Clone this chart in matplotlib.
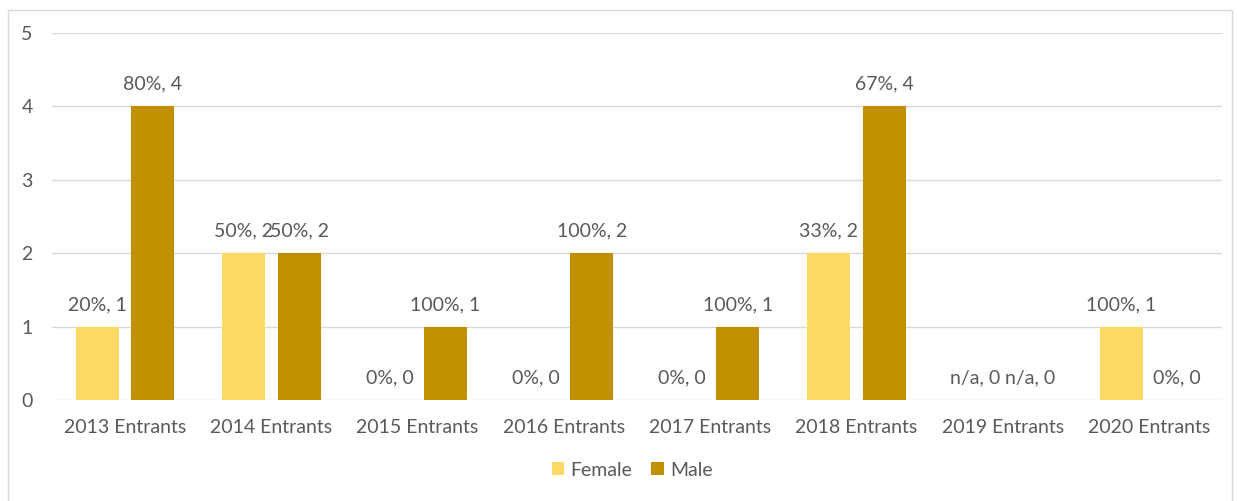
import matplotlib
matplotlib.use("Agg")
import matplotlib.pyplot as plt
from matplotlib.patches import Rectangle

categories = ["2013 Entrants", "2014 Entrants", "2015 Entrants", "2016 Entrants",
              "2017 Entrants", "2018 Entrants", "2019 Entrants", "2020 Entrants"]
female = [1, 2, 0, 0, 0, 2, 0, 1]
male = [4, 2, 1, 2, 1, 4, 0, 0]
female_pct = ["20%", "50%", "0%", "0%", "0%", "33%", "n/a", "100%"]
male_pct = ["80%", "50%", "100%", "100%", "100%", "67%", "n/a", "0%"]

FEMALE_COLOR = "#FFD966"
MALE_COLOR = "#BF9000"
TEXT_COLOR = "#595959"
GRID_COLOR = "#D9D9D9"
FS = 14

plt.rcParams["font.family"] = ["Lato", "DejaVu Sans"]

fig = plt.figure(figsize=(12.37, 5.01), dpi=100)
W, H = 1237, 501

# chart frame
fig.patches.append(Rectangle((8 / W, -0.05), (1232 - 8) / W, 1.05 - 10 / H,
                             transform=fig.transFigure, fill=False,
                             edgecolor="#D9D9D9", linewidth=1.0))

ax = fig.add_axes([52 / W, 1 - 400 / H, (1222 - 52) / W, (400 - 33) / H])

x = list(range(len(categories)))
offset = 0.19
width = 0.295
fx = [i - offset for i in x]
mx = [i + offset for i in x]
bf = ax.bar(fx, female, width=width, color=FEMALE_COLOR, label="Female", zorder=2)
bm = ax.bar(mx, male, width=width, color=MALE_COLOR, label="Male", zorder=2)

for xs, vals, pcts in ((fx, female, female_pct), (mx, male, male_pct)):
    for xi, v, p in zip(xs, vals, pcts):
        ax.annotate(f"{p}, {v}", (xi, v), xytext=(0, 16), textcoords="offset points",
                    ha="center", va="center", fontsize=FS, color=TEXT_COLOR)

ax.set_xlim(-0.5, len(categories) - 0.5)
ax.set_ylim(0, 5)
ax.set_yticks(range(6))
ax.set_xticks(x)
ax.set_xticklabels(categories)
ax.tick_params(axis="both", length=0, labelsize=FS, labelcolor=TEXT_COLOR)
ax.tick_params(axis="y", pad=14)
ax.tick_params(axis="x", pad=14)
ax.grid(axis="y", color=GRID_COLOR, linewidth=1.0, zorder=0)
for s in ax.spines.values():
    s.set_visible(False)

fig.legend(handles=[bf, bm], loc="center", bbox_to_anchor=(632 / W, 1 - 470 / H),
           ncol=2, frameon=False, fontsize=FS, handlelength=0.65, handleheight=0.65,
           handletextpad=0.3, columnspacing=1.0, labelcolor=TEXT_COLOR)

fig.savefig("out.png", dpi=100, facecolor="white")
